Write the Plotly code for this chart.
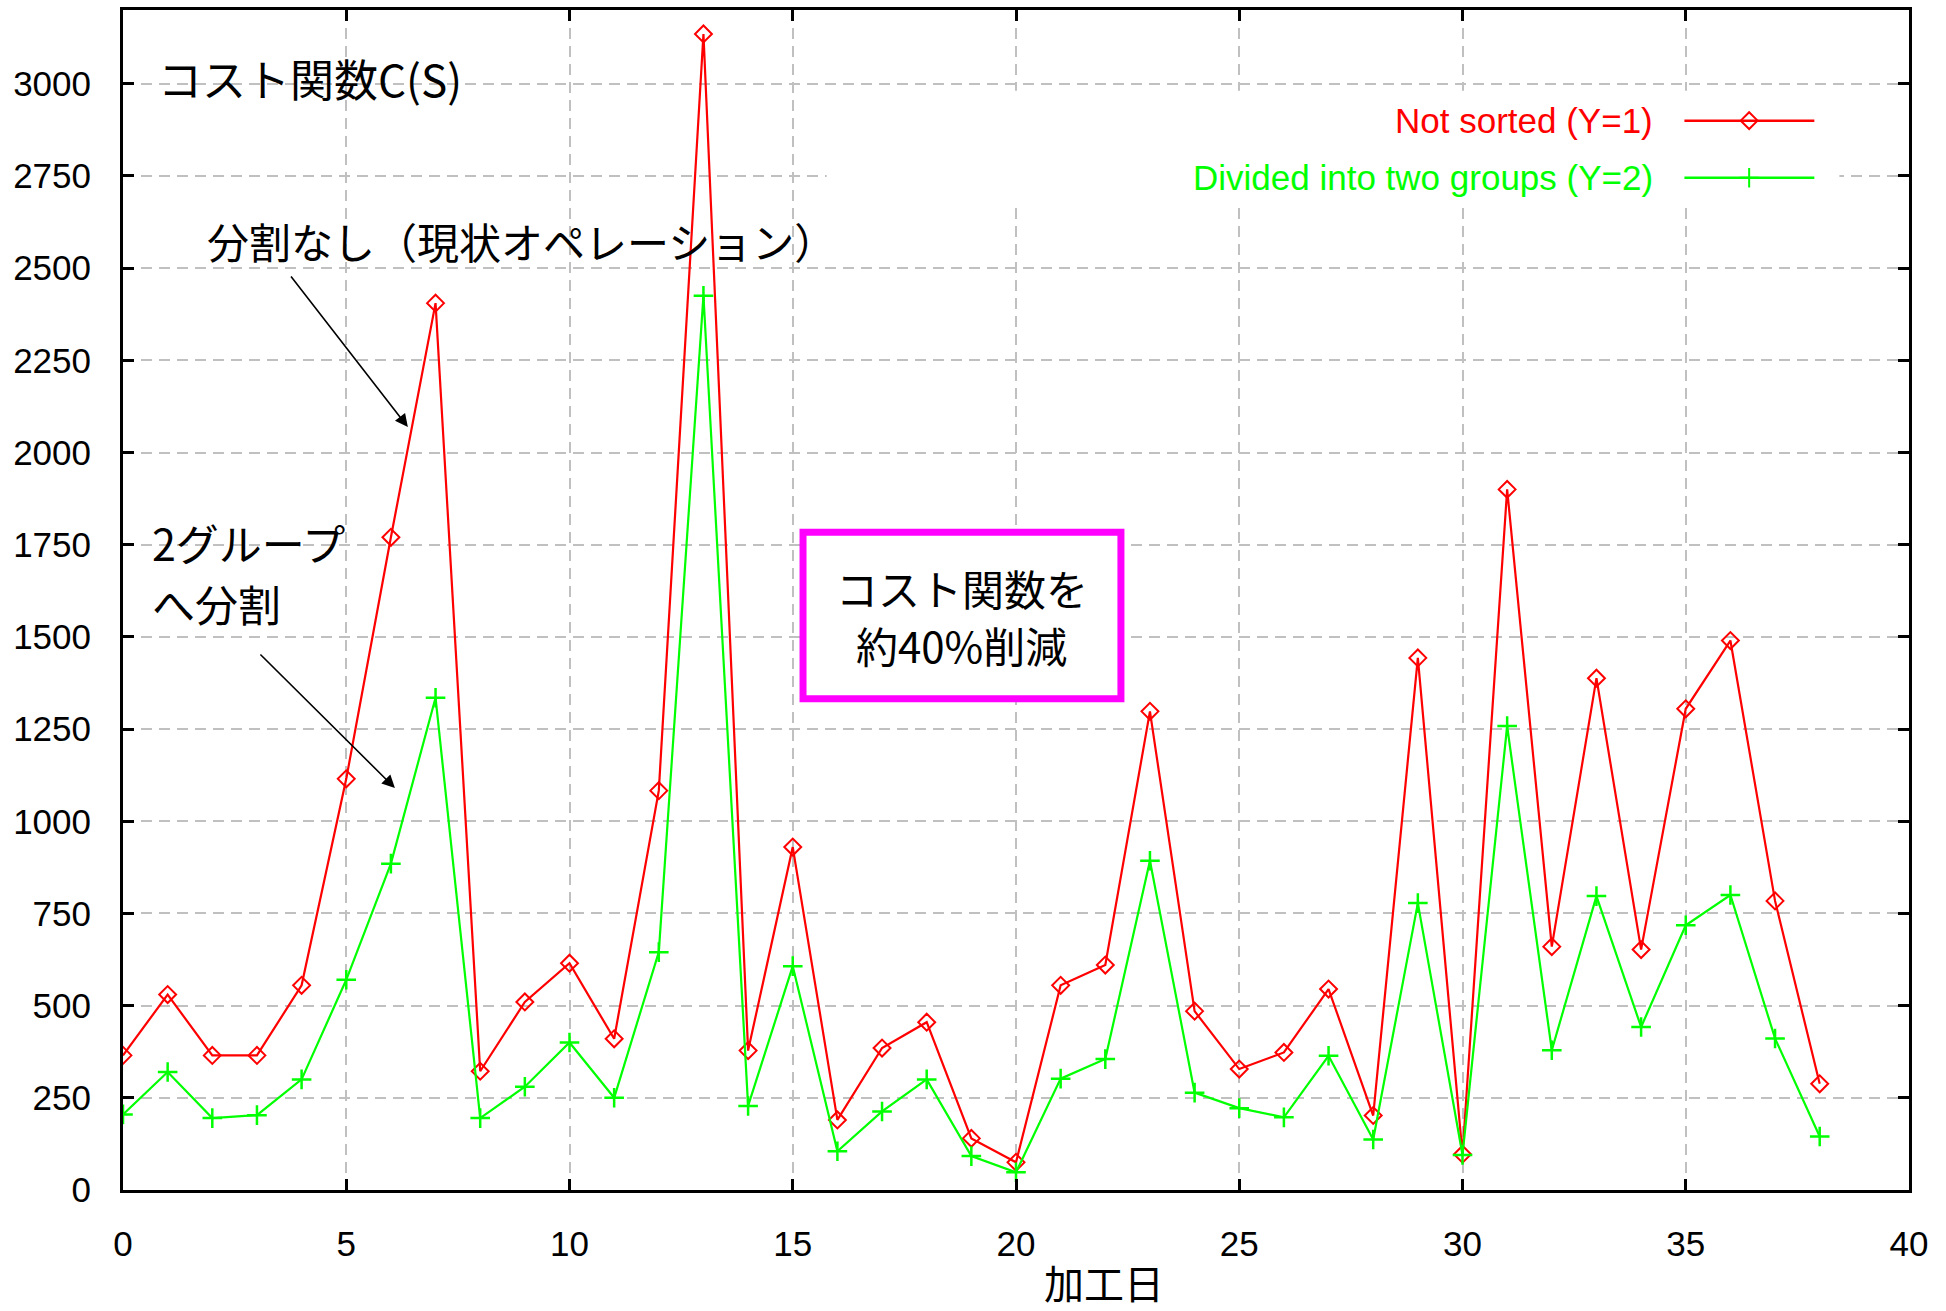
import plotly.graph_objects as go

# ---- data ----
days = list(range(39))
not_sorted = [365, 530, 365, 365, 555, 1115, 1770, 2405, 322, 510, 615, 410, 1083, 3135,
              378, 930, 190, 385, 455, 140, 75, 555, 610, 1298, 485, 328, 373, 545, 202,
              1443, 97, 1900, 660, 1388, 652, 1305, 1490, 784, 288]
two_groups = [205, 320, 195, 203, 300, 570, 885, 1335, 195, 280, 400, 250, 645, 2425,
              228, 607, 105, 213, 300, 92, 48, 302, 355, 893, 264, 222, 197, 364, 137,
              778, 95, 1258, 379, 797, 442, 718, 800, 411, 145]
series_names = ["Not sorted (Y=1)", "Divided into two groups (Y=2)"]
x_ticks = [0, 5, 10, 15, 20, 25, 30, 35, 40]
y_ticks = [0, 250, 500, 750, 1000, 1250, 1500, 1750, 2000, 2250, 2500, 2750, 3000]

RED = "#ff0000"
GREEN = "#00ff00"
JP = "Noto Sans CJK JP"
EN = "Liberation Sans, Arial, sans-serif"

fig = go.Figure()

fig.add_trace(go.Scatter(
    x=days, y=not_sorted, mode="lines+markers", name=series_names[0], showlegend=False,
    line=dict(color=RED, width=2.2),
    marker=dict(symbol="diamond-open", size=13, color=RED, line=dict(color=RED, width=2)),
))
fig.add_trace(go.Scatter(
    x=days, y=two_groups, mode="lines+markers", name=series_names[1], showlegend=False,
    line=dict(color=GREEN, width=2.2),
    marker=dict(symbol="cross-thin-open", size=14, color=GREEN, line=dict(color=GREEN, width=2.5)),
))

# ---- legend (gnuplot style: text right-aligned, sample on the right) ----
leg_y = [2900, 2745]
leg_colors = [RED, GREEN]
leg_symbols = ["diamond-open", "cross-thin-open"]
leg_sizes = [13, 14]
fig.add_shape(type="rect", xref="x", yref="y", x0=15.76, x1=38.44, y0=2672, y1=2981,
              fillcolor="white", line=dict(width=0), layer="between")
for name, yy, col, sym, sz in zip(series_names, leg_y, leg_colors, leg_symbols, leg_sizes):
    fig.add_trace(go.Scatter(x=[34.97, 37.88], y=[yy, yy], mode="lines", showlegend=False,
                             line=dict(color=col, width=2.5), hoverinfo="skip"))
    fig.add_trace(go.Scatter(x=[36.42], y=[yy], mode="markers", showlegend=False,
                             marker=dict(symbol=sym, size=sz, color=col, line=dict(color=col, width=2)),
                             hoverinfo="skip"))
    fig.add_annotation(x=34.32, y=yy, xref="x", yref="y", text=name, showarrow=False,
                       xanchor="right", yanchor="middle", font=dict(family=EN, size=35, color=col))

# ---- annotations ----
fig.add_annotation(x=0.74, y=3016, xref="x", yref="y", text="コスト関数C(S)", showarrow=False,
                   xanchor="left", yanchor="middle", font=dict(family=JP, size=44, color="black"))
fig.add_annotation(x=1.84, y=2575, xref="x", yref="y", text="分割なし（現状オペレーション）",
                   showarrow=False, xanchor="left", yanchor="middle",
                   font=dict(family=JP, size=42, color="black"))
for txt, yy in zip(["2グループ", "へ分割"], [1756, 1593]):
    fig.add_annotation(x=0.63, y=yy, xref="x", yref="y", text=txt, showarrow=False,
                       xanchor="left", yanchor="middle", borderpad=0,
                       font=dict(family=JP, size=43, color="black"))
# arrows
fig.add_annotation(x=6.38, y=2069, xref="x", yref="y", text="", showarrow=True,
                   ax=-118, ay=-152, arrowhead=2, arrowsize=1.6, arrowwidth=1.6, arrowcolor="black")
fig.add_annotation(x=6.09, y=1090, xref="x", yref="y", text="", showarrow=True,
                   ax=-136, ay=-135, arrowhead=2, arrowsize=1.6, arrowwidth=1.6, arrowcolor="black")
# magenta box
fig.add_shape(type="rect", xref="x", yref="y", x0=15.23, x1=22.35, y0=1332, y1=1784,
              fillcolor="white", line=dict(color="#ff00ff", width=7), layer="above")
for txt, yy in zip(["コスト関数を", "約40%削減"], [1634, 1480]):
    fig.add_annotation(x=18.79, y=yy, xref="x", yref="y", text=txt,
                       showarrow=False, xanchor="center", yanchor="middle", borderpad=0,
                       font=dict(family=JP, size=42, color="black"))
# x axis title
fig.add_annotation(x=0.549, y=-0.0778, xref="paper", yref="paper", text="加工日", showarrow=False,
                   xanchor="center", yanchor="middle", borderpad=0,
                   font=dict(family=JP, size=40, color="black"))

axis_common = dict(
    showline=True, linecolor="black", linewidth=3, mirror="ticks",
    ticks="inside", ticklen=11, tickwidth=3, tickcolor="black",
    showgrid=True, gridcolor="#c0c0c0", gridwidth=2, griddash="11px,7px",
    zeroline=False, tickfont=dict(family=EN, size=35, color="black"),
)
fig.update_xaxes(range=[0, 40], tickvals=x_ticks, ticklabelstandoff=21, **axis_common)
fig.update_yaxes(range=[0, 3200], tickvals=y_ticks, ticklabelstandoff=22, **axis_common)

fig.update_layout(
    width=1946, height=1311,
    margin=dict(l=123, r=37, t=7, b=121, pad=0),
    paper_bgcolor="white", plot_bgcolor="white",
    showlegend=False,
)

fig.write_html("out.html", config={"displayModeBar": False},
               post_script="document.body.style.margin='0';document.body.style.overflow='hidden';")
